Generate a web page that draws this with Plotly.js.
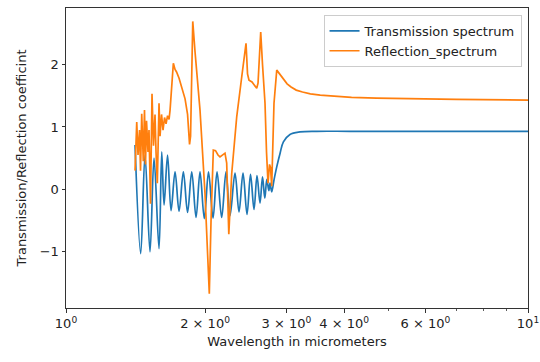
<!DOCTYPE html>
<html>
<head>
<meta charset="utf-8">
<script src="https://cdn.plot.ly/plotly-3.0.1.min.js"></script>
<style>
  html, body { margin: 0; padding: 0; background: #ffffff; }
  #chart { width: 540px; height: 362px; }
</style>
</head>
<body>
<div id="chart"></div>
<script>
// Transmission spectrum: wavelength (micrometers) and coefficient
const transWavelength = [
  1.4107, 1.4511, 1.4826, 1.5199, 1.5507, 1.5898, 1.6115, 1.6302, 1.6589, 1.6880,
  1.7220, 1.7568, 1.7948, 1.8328, 1.8715, 1.9121, 1.9501, 1.9923, 2.0345, 2.0809,
  2.1228, 2.1727, 2.2198, 2.2645, 2.3217, 2.3685, 2.4163, 2.4650, 2.5082, 2.5524,
  2.5909, 2.6299, 2.6629, 2.6936, 2.7206, 2.7480, 2.7644, 2.7879, 2.8197, 2.8585,
  2.9068, 2.9551, 3.0534, 3.2102, 3.4886, 4.1188, 6.0, 10.0
];
const transValue = [
  0.71, -1.03, 0.55, -1.00, 0.50, -0.95, 0.60, -0.25, 0.55, -0.34,
  0.28, -0.35, 0.28, -0.37, 0.28, -0.45, 0.28, -0.47, 0.28, -0.46,
  0.28, -0.45, 0.28, -0.42, 0.26, -0.36, 0.26, -0.40, 0.24, -0.32,
  0.22, -0.22, 0.20, -0.14, 0.16, -0.02, 0.10, -0.04, 0.15, 0.36,
  0.58, 0.76, 0.88, 0.92, 0.93, 0.93, 0.93, 0.93
];

// Reflection spectrum: wavelength (micrometers) and coefficient
const reflWavelength = [
  1.4107, 1.4227, 1.4318, 1.4426, 1.4498, 1.4585, 1.4701, 1.4788, 1.4862, 1.4937,
  1.5049, 1.5124, 1.5237, 1.5352, 1.5467, 1.5584, 1.5662, 1.5764, 1.5898, 1.5978,
  1.6098, 1.6219, 1.6342, 1.6465, 1.6589, 1.6713, 1.6797, 1.6923, 1.7075, 1.7220,
  1.7350, 1.7568, 1.7830, 1.8101, 1.8328, 1.8511, 1.8604, 1.8809, 1.9025, 1.9501,
  1.9993, 2.0427, 2.0602, 2.0840, 2.1070, 2.1331, 2.1544, 2.1814, 2.2087, 2.2275,
  2.2511, 2.2838, 2.3415, 2.4007, 2.4527, 2.4711, 2.4896, 2.5269, 2.5870, 2.6041,
  2.6391, 2.6629, 2.6963, 2.7165, 2.7370, 2.7575, 2.7713, 2.7879, 2.8029, 2.8197,
  2.8585, 2.8850, 2.9200, 2.9600, 3.0100, 3.0700, 3.1500, 3.2500, 3.3800, 3.5500,
  3.8000, 4.1500, 4.7000, 5.5000, 7.0000, 10.0
];
const reflValue = [
  0.30, 1.08, 0.55, 0.95, 0.30, 1.21, 0.45, 1.27, 0.40, 1.10,
  0.60, 0.95, -0.23, 1.53, 0.70, 1.20, 0.60, 0.10, 1.38, 0.85,
  1.20, 0.95, 1.15, 1.05, 1.18, 1.12, 1.27, 1.60, 2.02, 1.92,
  1.88, 1.78, 1.62, 1.45, 1.20, 0.72, 0.85, 2.69, 2.20, 1.27,
  -0.07, -1.67, -0.50, 0.63, 0.62, 0.55, 0.52, 0.55, 0.58, 0.42,
  -0.72, 0.25, 1.16, 1.80, 2.34, 1.85, 1.75, 1.72, 1.62, 1.70,
  2.52, 2.00, 1.38, 0.60, 0.10, 0.40, 0.35, 0.05, 0.60, 1.38,
  1.91, 1.87, 1.81, 1.75, 1.69, 1.64, 1.59, 1.56, 1.53, 1.51,
  1.49, 1.475, 1.46, 1.45, 1.44, 1.43
];

const xMajorVals = [1, 2, 3, 4, 6, 10];
const xMajorText = ['10<sup>0</sup>', '2 × 10<sup>0</sup>', '3 × 10<sup>0</sup>',
                    '4 × 10<sup>0</sup>', '6 × 10<sup>0</sup>', '10<sup>1</sup>'];
const xMinorVals = [5, 7, 8, 9];
const yTickVals = [-1, 0, 1, 2];
const yTickText = ['−1', '0', '1', '2'];

const font = { family: 'DejaVu Sans, sans-serif', size: 13, color: '#222222' };

const traces = [
  {
    x: transWavelength, y: transValue, type: 'scatter', mode: 'lines',
    name: 'Transmission spectrum',
    line: { color: '#1f77b4', width: 1.7, shape: 'spline', smoothing: 1 }
  },
  {
    x: reflWavelength, y: reflValue, type: 'scatter', mode: 'lines',
    name: 'Reflection_spectrum',
    line: { color: '#ff7f0e', width: 1.7 }
  }
];

const layout = {
  width: 540, height: 362,
  margin: { l: 66, r: 12, t: 8, b: 54 },
  paper_bgcolor: '#ffffff', plot_bgcolor: '#ffffff',
  font: font,
  showlegend: true,
  legend: {
    x: 0.986, y: 0.977, xanchor: 'right', yanchor: 'top',
    bgcolor: 'rgba(255,255,255,0.8)', bordercolor: '#cccccc', borderwidth: 1,
    font: font, tracegroupgap: 0
  },
  xaxis: {
    type: 'log', range: [0, 1],
    tickmode: 'array', tickvals: xMajorVals, ticktext: xMajorText,
    ticks: 'outside', ticklen: 3.5, tickwidth: 1, tickcolor: '#333333',
    minor: { tickmode: 'array', tickvals: xMinorVals, ticks: 'outside', ticklen: 2, tickwidth: 0.8, tickcolor: '#333333', showgrid: false },
    showline: true, linecolor: '#333333', linewidth: 1, mirror: true,
    showgrid: false, zeroline: false,
    title: { text: 'Wavelength in micrometers', font: font, standoff: 6 }
  },
  yaxis: {
    range: [-1.90, 2.905],
    tickmode: 'array', tickvals: yTickVals, ticktext: yTickText,
    ticks: 'outside', ticklen: 3.5, tickwidth: 1, tickcolor: '#333333',
    showline: true, linecolor: '#333333', linewidth: 1, mirror: true,
    showgrid: false, zeroline: false,
    title: { text: 'Transmission/Reflection coefficint', font: font, standoff: 10 }
  }
};

Plotly.newPlot('chart', traces, layout, { displayModeBar: false, staticPlot: true });
</script>
</body>
</html>
